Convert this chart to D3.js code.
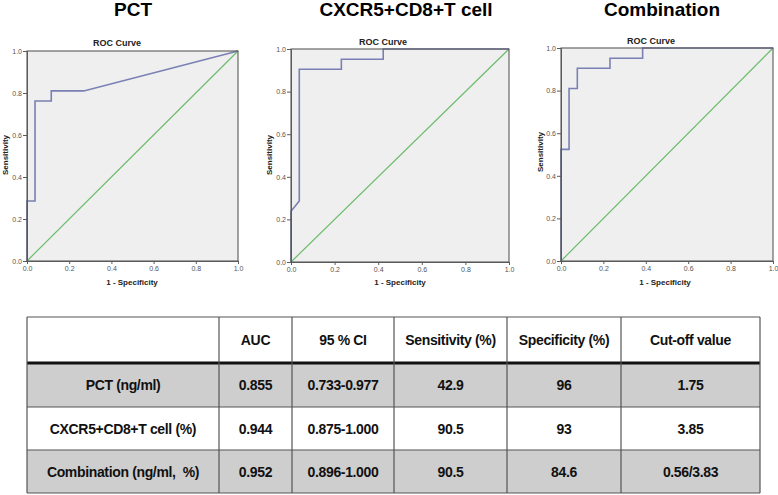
<!DOCTYPE html>
<html>
<head>
<meta charset="utf-8">
<script src="https://cdn.jsdelivr.net/npm/d3@7"></script>
<style>
  html, body { margin: 0; padding: 0; background: #fff; }
  svg { display: block; font-family: "Liberation Sans", Arial, sans-serif; }
</style>
</head>
<body>
<svg id="chart" width="778" height="495"></svg>
<script>
// ---------- data ----------
const panelTitles = ["PCT", "CXCR5+CD8+T cell", "Combination"];
const pctFpr  = [0, 0, 0.038, 0.038, 0.115, 0.115, 0.269, 1.0];
const pctTpr  = [0, 0.286, 0.286, 0.762, 0.762, 0.810, 0.810, 1.0];
const cxcrFpr = [0, 0, 0.038, 0.038, 0.231, 0.231, 0.423, 0.423, 1.0];
const cxcrTpr = [0, 0.238, 0.286, 0.905, 0.905, 0.952, 0.952, 1.0, 1.0];
const combFpr = [0, 0, 0.038, 0.038, 0.077, 0.077, 0.231, 0.231, 0.385, 0.385, 1.0];
const combTpr = [0, 0.524, 0.524, 0.810, 0.810, 0.905, 0.905, 0.952, 0.952, 1.0, 1.0];
const tickValues = [0, 0.2, 0.4, 0.6, 0.8, 1.0];

const tableHeader = ["", "AUC", "95 % CI", "Sensitivity (%)", "Specificity (%)", "Cut-off value"];
const rowLabels   = ["PCT (ng/ml)", "CXCR5+CD8+T cell (%)", "Combination (ng/ml,  %)"];
const aucValues   = ["0.855", "0.944", "0.952"];
const ciValues    = ["0.733-0.977", "0.875-1.000", "0.896-1.000"];
const sensValues  = ["42.9", "90.5", "90.5"];
const specValues  = ["96", "93", "84.6"];
const cutValues   = ["1.75", "3.85", "0.56/3.83"];

// ---------- layout ----------
const svg = d3.select("#chart");
const panels = [
  { fpr: pctFpr,  tpr: pctTpr,  x0: 27,  x1: 238, y0: 51, y1: 261, titleX: 133, rocX: 117, rocY: 46,   sensX: 8,   sensY: 155, specX: 132 },
  { fpr: cxcrFpr, tpr: cxcrTpr, x0: 291, x1: 509, y0: 49, y1: 262, titleX: 406, rocX: 383, rocY: 45,   sensX: 272, sensY: 155, specX: 400 },
  { fpr: combFpr, tpr: combTpr, x0: 561, x1: 773, y0: 48, y1: 261, titleX: 662, rocX: 651, rocY: 43.5, sensX: 543, sensY: 152, specX: 665 }
];

panels.forEach((p, i) => {
  const g = svg.append("g");
  const x = d3.scaleLinear().domain([0, 1]).range([p.x0, p.x1]);
  const y = d3.scaleLinear().domain([0, 1]).range([p.y1, p.y0]);

  g.append("text").attr("x", p.titleX).attr("y", 15.5).attr("text-anchor", "middle")
    .attr("font-size", 19).attr("font-weight", "bold").attr("fill", "#000").text(panelTitles[i]);

  g.append("text").attr("x", p.rocX).attr("y", p.rocY).attr("text-anchor", "middle")
    .attr("font-size", 9).attr("font-weight", "bold").attr("fill", "#222").text("ROC Curve");

  g.append("rect").attr("x", p.x0).attr("y", p.y0).attr("width", p.x1 - p.x0).attr("height", p.y1 - p.y0)
    .attr("fill", "#efefef");

  // diagonal reference
  g.append("path").datum([0, 1])
    .attr("d", d3.line().x(d => x(d)).y(d => y(d)))
    .attr("fill", "none").attr("stroke", "#6cbc6c").attr("stroke-width", 1.2);

  // ROC curve
  const pts = p.fpr.map((f, k) => [f, p.tpr[k]]);
  g.append("path").datum(pts)
    .attr("d", d3.line().x(d => x(d[0])).y(d => y(d[1])))
    .attr("fill", "none").attr("stroke", "#7a80b4").attr("stroke-width", 1.6);

  // frame
  g.append("rect").attr("x", p.x0).attr("y", p.y0).attr("width", p.x1 - p.x0).attr("height", p.y1 - p.y0)
    .attr("fill", "none").attr("stroke", "#5a5a5a").attr("stroke-width", 1.1);

  const xa = g.append("g").attr("transform", `translate(0,${p.y1})`)
    .call(d3.axisBottom(x).tickValues(tickValues).tickFormat(d3.format(".1f")).tickSize(3).tickPadding(2));
  const ya = g.append("g").attr("transform", `translate(${p.x0},0)`)
    .call(d3.axisLeft(y).tickValues(tickValues).tickFormat(d3.format(".1f")).tickSize(4).tickPadding(1));
  [xa, ya].forEach(a => {
    a.select(".domain").attr("stroke", "#5a5a5a");
    a.selectAll(".tick line").attr("stroke", "#5a5a5a");
    a.selectAll(".tick text").attr("font-size", 7).attr("fill", "#555")
      .attr("font-family", "'Liberation Sans', Arial, sans-serif");
  });

  g.append("text").attr("x", p.specX).attr("y", 285).attr("text-anchor", "middle")
    .attr("font-size", 8).attr("font-weight", "bold").attr("fill", "#222").text("1 - Specificity");

  g.append("text").attr("transform", `translate(${p.sensX},${p.sensY}) rotate(-90)`)
    .attr("text-anchor", "middle").attr("font-size", 8).attr("font-weight", "bold").attr("fill", "#222")
    .text("Sensitivity");
});

// ---------- table ----------
const colX = [27, 219, 292, 394, 507, 621, 760];
const rowY = [317, 363, 407, 450, 493];
const rowFill = ["#ffffff", "#cecece", "#ffffff", "#cecece"];
const rows = [tableHeader].concat(rowLabels.map((l, r) =>
  [l, aucValues[r], ciValues[r], sensValues[r], specValues[r], cutValues[r]]));

const tg = svg.append("g");
rows.forEach((row, r) => {
  tg.append("rect").attr("x", colX[0]).attr("y", rowY[r]).attr("width", colX[6] - colX[0])
    .attr("height", rowY[r + 1] - rowY[r]).attr("fill", rowFill[r]);
  row.forEach((txt, c) => {
    tg.append("text").attr("x", (colX[c] + colX[c + 1]) / 2).attr("y", (rowY[r] + rowY[r + 1]) / 2 + 5)
      .attr("text-anchor", "middle").attr("font-size", 14).attr("font-weight", "bold")
      .attr("letter-spacing", -0.35).attr("fill", "#111")
      .style("white-space", "pre").text(txt);
  });
});
// grid lines
rowY.forEach((yy, r) => {
  tg.append("line").attr("x1", colX[0]).attr("x2", colX[6]).attr("y1", yy).attr("y2", yy)
    .attr("stroke", r === 1 ? "#111" : "#555").attr("stroke-width", r === 1 ? 3 : 1.2);
});
colX.forEach(xx => {
  tg.append("line").attr("x1", xx).attr("x2", xx).attr("y1", rowY[0]).attr("y2", rowY[4])
    .attr("stroke", "#555").attr("stroke-width", 1.2);
});
</script>
</body>
</html>
